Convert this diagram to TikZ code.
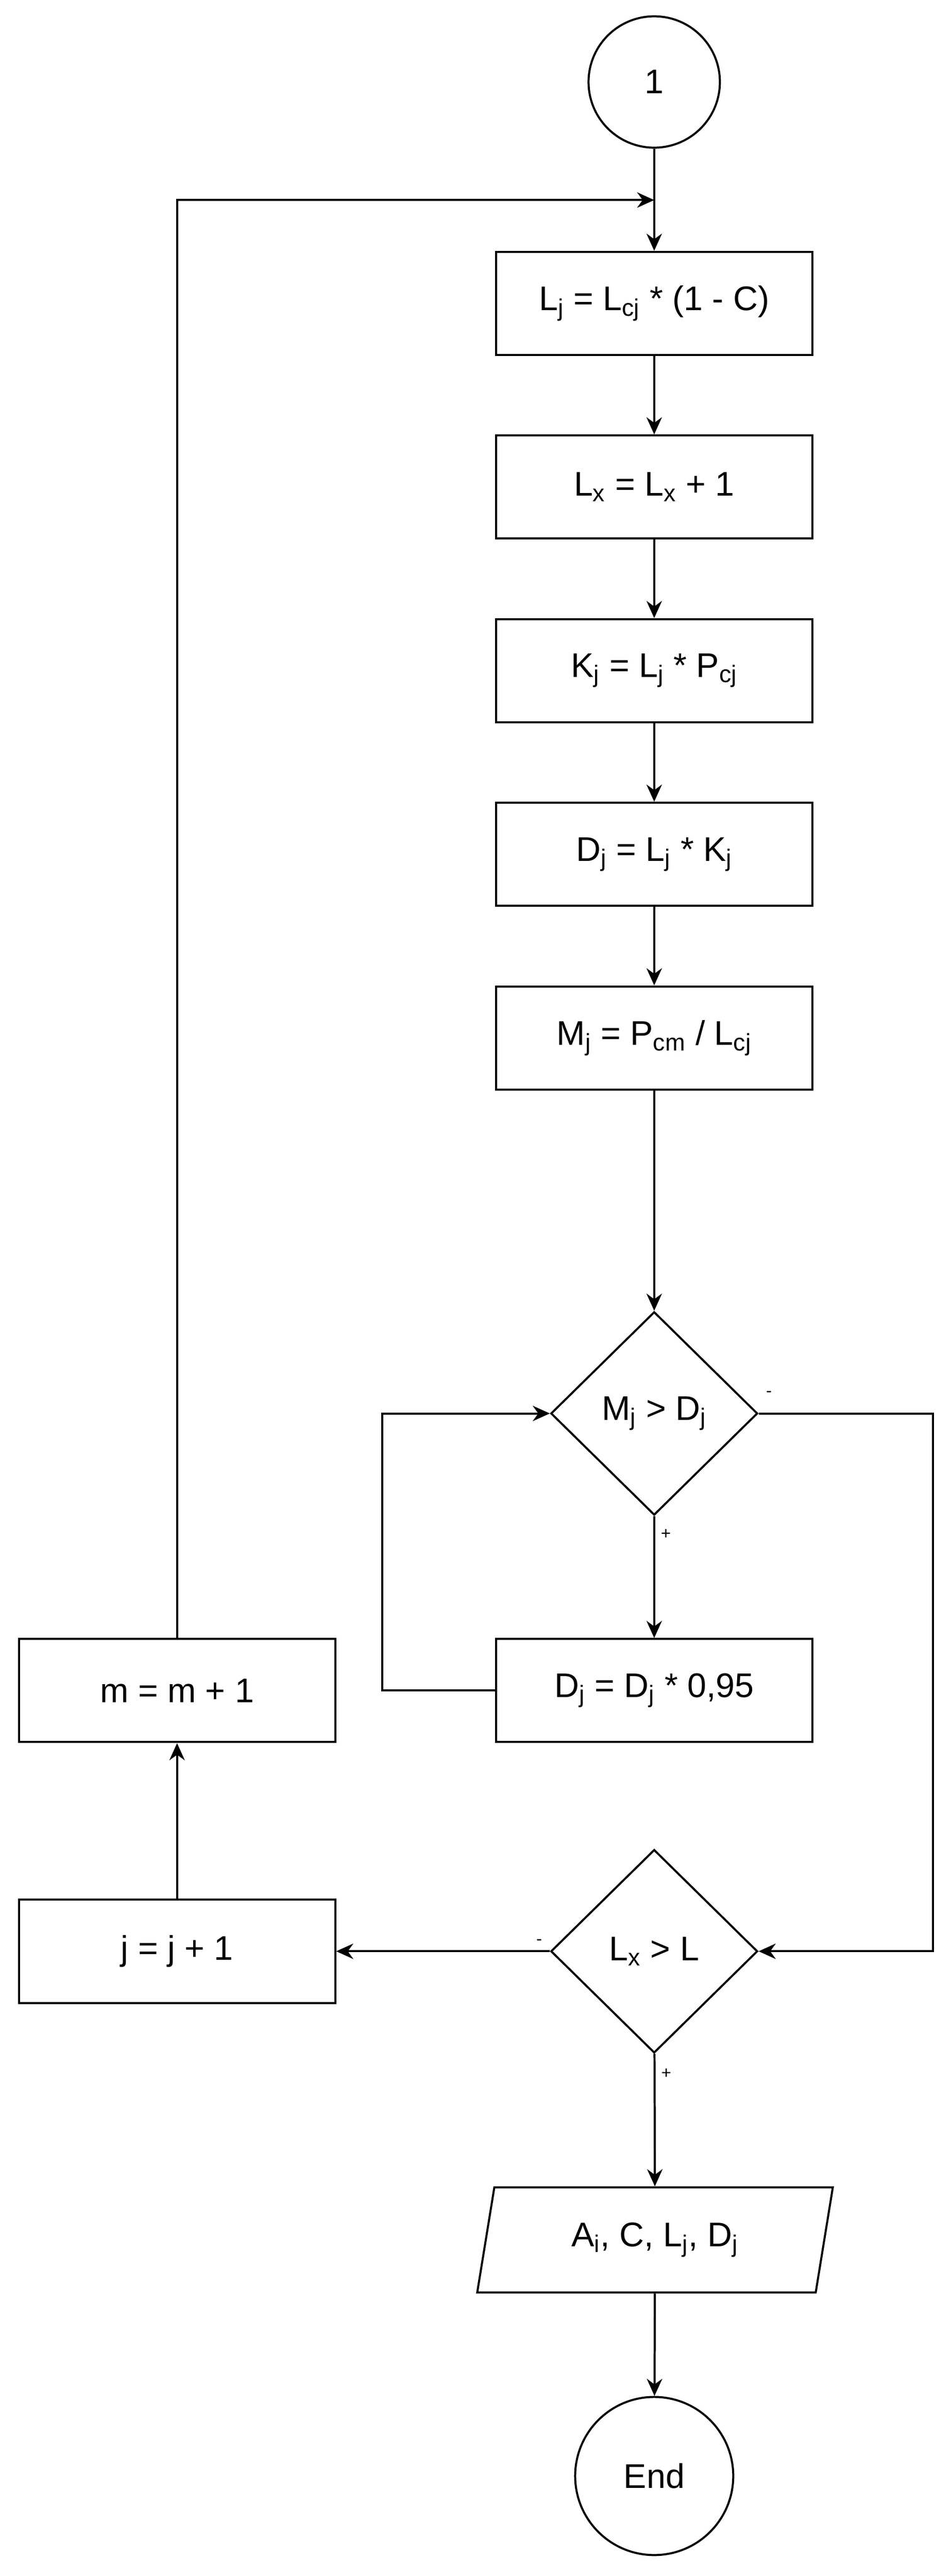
\documentclass[tikz,border=0pt]{standalone}
\usepackage{fontspec}
\setmainfont{Liberation Sans}
\usetikzlibrary{shapes.geometric,arrows.meta}
\newcommand{\sub}[1]{\textsubscript{#1}}
\begin{document}
\begin{tikzpicture}[x=0.0337cm,y=-0.0337cm,
  every node/.style={font=\fontsize{20}{24}\selectfont},
  box/.style={draw,line width=1.2pt,minimum width=6.5cm,minimum height=2.12cm,inner sep=0pt},
  dia/.style={draw,line width=1.2pt,diamond,aspect=1,minimum width=4.25cm,minimum height=4.18cm,inner sep=0pt},
  circ/.style={draw,line width=1.2pt,circle,inner sep=0pt},
  io/.style={draw,line width=1.2pt,trapezium,trapezium left angle=63.4,trapezium right angle=116.6,trapezium stretches body,minimum width=7.31cm,minimum height=2.16cm,inner sep=0pt},
  lab/.style={font=\fontsize{10}{12}\selectfont},
  ar/.style={line width=1.2pt,-{Stealth[length=10pt,width=9pt]}},
  ln/.style={line width=1.2pt}]
\useasboundingbox (0,0) rectangle (580,1571);
\node[circ,minimum size=2.7cm] (c1) at (399,50) {1};
\node[box] (b1) at (399,185) {L\sub{j} = L\sub{cj} * (1 - C)};
\node[box] (b2) at (399,297) {L\sub{x} = L\sub{x} + 1};
\node[box] (b3) at (399,409) {K\sub{j} = L\sub{j} * P\sub{cj}};
\node[box] (b4) at (399,521) {D\sub{j} = L\sub{j} * K\sub{j}};
\node[box] (b5) at (399,633) {M\sub{j} = P\sub{cm} / L\sub{cj}};
\node[dia] (d1) at (399,862) {M\sub{j} > D\sub{j}};
\node[box] (b6) at (399,1031) {D\sub{j} = D\sub{j} * 0,95};
\node[box] (bm) at (108,1031) {m = m + 1};
\node[dia] (d2) at (399,1190) {L\sub{x} > L};
\node[box] (bj) at (108,1190) {j = j + 1};
\node[io] (out) at (399.5,1366) {A\sub{i}, C, L\sub{j}, D\sub{j}};
\node[circ,minimum size=3.25cm] (end) at (399,1510) {End};
\coordinate (jn) at (399,122);
\coordinate (l1) at (233,1031);
\coordinate (r1) at (569,862);
\draw[ar] (c1) -- (b1);
\draw[ar] (b1) -- (b2);
\draw[ar] (b2) -- (b3);
\draw[ar] (b3) -- (b4);
\draw[ar] (b4) -- (b5);
\draw[ar] (b5) -- (d1);
\draw[ar] (d1) -- node[lab,right,pos=0.15]{+} (b6);
\draw[ar] (b6.west) -- (l1) |- (d1.west);
\draw[ar] (d1.east) -- (r1) |- (d2.east);
\node[lab] (mn1) at (469,850) {-};
\draw[ar] (d2.west) -- node[lab,above,pos=0.05]{-} (bj.east);
\draw[ar] (bj) -- (bm);
\draw[ar] (bm.north) |- (jn);
\draw[ar] (d2) -- node[lab,right,pos=0.15]{+} (out);
\draw[ar] (out) -- (end);
\end{tikzpicture}
\end{document}
